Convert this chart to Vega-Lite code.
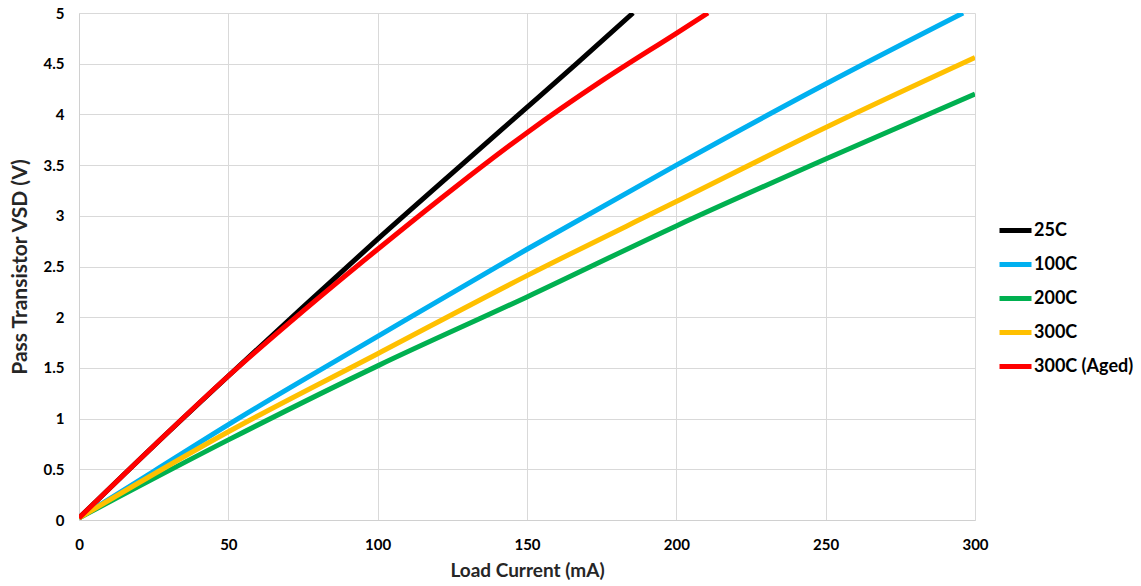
{
  "$schema": "https://vega.github.io/schema/vega-lite/v6.json",
  "width": 896,
  "height": 507,
  "autosize": {"type": "none"},
  "padding": {"left": 79, "top": 13, "right": 166, "bottom": 66},
  "background": "white",
  "data": {
    "values": [
      {"series": "25C", "current": 0, "vsd": 0.02},
      {"series": "25C", "current": 25, "vsd": 0.73},
      {"series": "25C", "current": 50, "vsd": 1.42},
      {"series": "25C", "current": 75, "vsd": 2.1},
      {"series": "25C", "current": 100, "vsd": 2.77},
      {"series": "25C", "current": 128, "vsd": 3.5},
      {"series": "25C", "current": 147.3, "vsd": 4.0},
      {"series": "25C", "current": 166.6, "vsd": 4.5},
      {"series": "25C", "current": 185.5, "vsd": 5.0},
      {"series": "100C", "current": 0, "vsd": 0.02},
      {"series": "100C", "current": 25, "vsd": 0.48},
      {"series": "100C", "current": 50, "vsd": 0.94},
      {"series": "100C", "current": 100, "vsd": 1.81},
      {"series": "100C", "current": 150, "vsd": 2.67},
      {"series": "100C", "current": 200, "vsd": 3.5},
      {"series": "100C", "current": 250, "vsd": 4.3},
      {"series": "100C", "current": 296, "vsd": 5.0},
      {"series": "200C", "current": 0, "vsd": 0.02},
      {"series": "200C", "current": 50, "vsd": 0.79},
      {"series": "200C", "current": 100, "vsd": 1.52},
      {"series": "200C", "current": 150, "vsd": 2.2},
      {"series": "200C", "current": 200, "vsd": 2.9},
      {"series": "200C", "current": 250, "vsd": 3.56},
      {"series": "200C", "current": 300, "vsd": 4.2},
      {"series": "300C", "current": 0, "vsd": 0.02},
      {"series": "300C", "current": 50, "vsd": 0.87},
      {"series": "300C", "current": 100, "vsd": 1.64},
      {"series": "300C", "current": 150, "vsd": 2.41},
      {"series": "300C", "current": 200, "vsd": 3.14},
      {"series": "300C", "current": 250, "vsd": 3.87},
      {"series": "300C", "current": 300, "vsd": 4.56},
      {"series": "300C (Aged)", "current": 0, "vsd": 0.02},
      {"series": "300C (Aged)", "current": 25, "vsd": 0.73},
      {"series": "300C (Aged)", "current": 50, "vsd": 1.42},
      {"series": "300C (Aged)", "current": 75, "vsd": 2.06},
      {"series": "300C (Aged)", "current": 100, "vsd": 2.67},
      {"series": "300C (Aged)", "current": 125, "vsd": 3.26},
      {"series": "300C (Aged)", "current": 150, "vsd": 3.82},
      {"series": "300C (Aged)", "current": 175, "vsd": 4.33},
      {"series": "300C (Aged)", "current": 200, "vsd": 4.8},
      {"series": "300C (Aged)", "current": 210.6, "vsd": 5.0}
    ]
  },
  "mark": {"type": "line", "strokeWidth": 5, "interpolate": "monotone", "clip": true},
  "encoding": {
    "x": {
      "field": "current",
      "type": "quantitative",
      "scale": {"domain": [0, 300], "nice": false},
      "axis": {
        "title": "Load Current (mA)",
        "values": [0, 50, 100, 150, 200, 250, 300],
        "tickSize": 0,
        "labelFlush": false,
        "labelPadding": 17,
        "labelFont": "Lato",
        "labelFontSize": 15,
        "labelFontWeight": "bold",
        "labelColor": "#000000",
        "titleFont": "Lato",
        "titleFontSize": 19,
        "titleFontWeight": "bold",
        "titleColor": "#262626",
        "titlePadding": 9,
        "domainColor": "#d0d0d0",
        "gridColor": "#d9d9d9",
        "gridWidth": 1
      }
    },
    "y": {
      "field": "vsd",
      "type": "quantitative",
      "scale": {"domain": [0, 5], "nice": false},
      "axis": {
        "title": "Pass Transistor VSD (V)",
        "values": [0, 0.5, 1, 1.5, 2, 2.5, 3, 3.5, 4, 4.5, 5],
        "format": "~g",
        "tickSize": 0,
        "labelPadding": 15,
        "labelFont": "Lato",
        "labelFontSize": 15,
        "labelFontWeight": "bold",
        "labelColor": "#000000",
        "titleFont": "Lato",
        "titleFontSize": 21,
        "titleFontWeight": "bold",
        "titleColor": "#262626",
        "titlePadding": 13,
        "domainColor": "#d0d0d0",
        "gridColor": "#d9d9d9",
        "gridWidth": 1
      }
    },
    "color": {
      "field": "series",
      "type": "nominal",
      "sort": ["25C", "100C", "200C", "300C", "300C (Aged)"],
      "scale": {
        "domain": ["25C", "100C", "200C", "300C", "300C (Aged)"],
        "range": ["#000000", "#00b0f0", "#00b050", "#ffc000", "#ff0000"]
      },
      "legend": {
        "title": null,
        "orient": "none",
        "legendX": 918,
        "legendY": 199,
        "symbolType": "stroke",
        "symbolSize": 1024,
        "symbolStrokeWidth": 5,
        "symbolOffset": 0,
        "labelOffset": 0,
        "labelFont": "Lato",
        "labelFontSize": 18,
        "labelFontWeight": "bold",
        "labelColor": "#000000",
        "rowPadding": 5
      }
    }
  },
  "config": {
    "view": {"stroke": null}
  }
}
